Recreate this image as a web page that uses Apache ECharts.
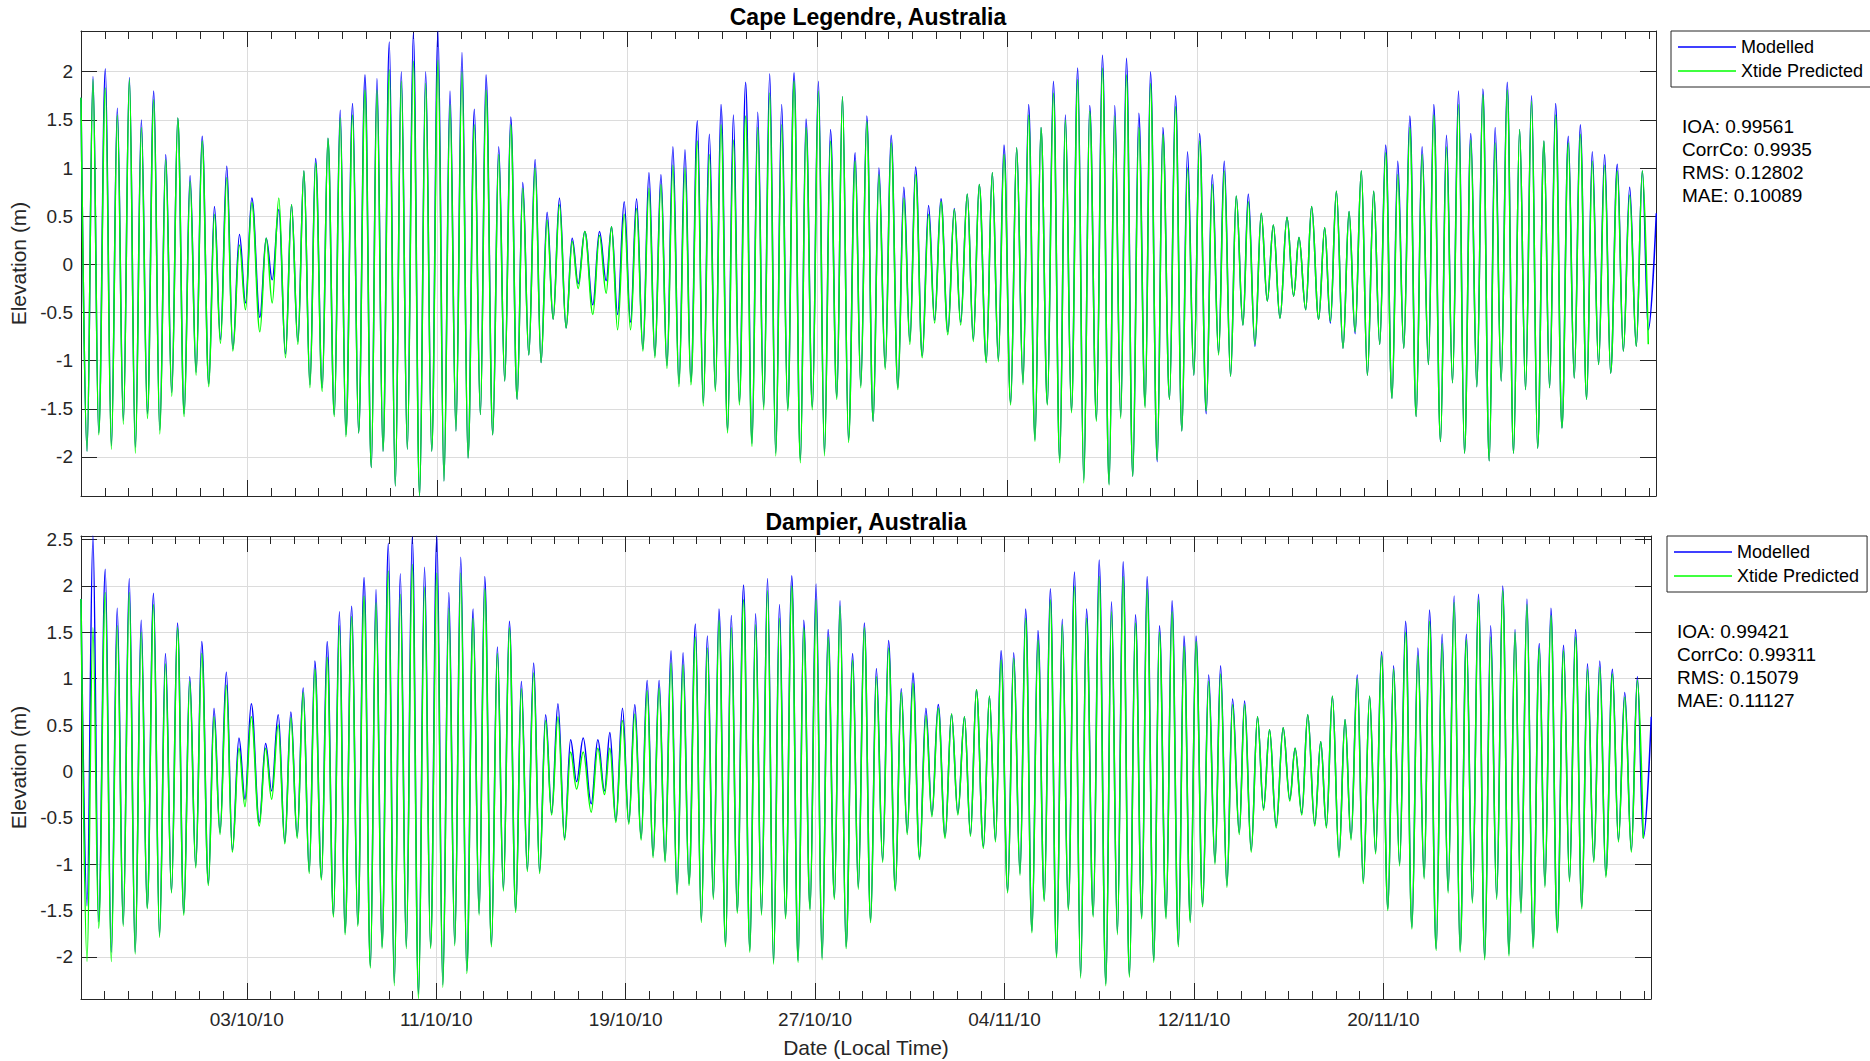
<!DOCTYPE html>
<html><head><meta charset="utf-8">
<script src="https://cdn.jsdelivr.net/npm/echarts@6/dist/echarts.min.js"></script>
<style>html,body{margin:0;padding:0;background:#fff;}#chart{width:1870px;height:1061px;}</style>
</head><body><div id="chart"></div>
<script>
// Times of successive high / low waters (hours after 26/09/10 00:00, local time)
const tideHours = [
0,6.1,12.1,17.9,24.6,30.7,36.7,42.8,48.9,54.9,61.0,67.1,73.5,79.6,85.6,91.7,97.8,104.2,110.2,116.3,122.4,129.1,134.8,140.9,147.3,153.4,160.1,166.2,172.6,180.7,187.1,193.2,199.9,206.6,212.7,219.1,225.2,231.3,237.0,243.7,249.5,255.9,261.9,
267.6,274.4,280.5,286.9,293.3,299.0,305.1,311.5,317.5,323.6,329.7,335.7,342.1,348.2,354.3,360.7,366.7,372.8,378.8,384.9,391.0,397.4,403.5,409.2,416.0,422.0,428.1,434.2,440.6,446.3,452.4,458.8,464.8,470.9,477.0,483.4,490.1,496.2,502.3,509.0,517.1,523.8,530.6,
536.0,542.1,548.8,555.2,561.3,567.7,573.8,579.8,585.9,592.0,598.0,604.1,610.2,616.2,622.7,628.7,634.8,640.9,646.6,653.3,659.1,665.1,671.5,677.9,683.7,689.7,695.8,701.9,707.9,714.0,720.4,726.8,732.5,738.9,745.0,751.1,757.2,763.6,769.3,775.4,782.1,787.8,793.9,
800.3,806.1,812.5,818.5,825.3,831.3,837.4,843.2,849.9,856.3,862.4,868.8,875.8,882.3,888.7,895.4,901.5,907.5,914.6,920.7,926.8,932.5,939.2,945.3,951.7,957.4,963.8,969.9,976.3,982.4,988.8,994.5,1000.6,1007.0,1013.1,1019.1,1025.9,1031.9,1038.7,1044.4,1050.4,1056.2,
1062.6,1068.7,1075.1,1080.5,1087.3,1093.0,1099.7,1105.8,1112.2,1117.9,1124.3,1130.1,1136.8,1142.9,1149.3,1155.0,1161.4,1167.1,1173.9,1179.3,1186.0,1192.4,1198.5,1204.6,1211.3,1218.4,1225.1,1230.5,1237.3,1243.3,1250.4,1256.5,1262.2,1268.3,1275.0,1281.1,1287.2,1293.5,1299.6,1306.0,1312.1,1318.1,1324.5,
1330.3,1336.4,1342.5,1348.9,1354.9,1361.3,1366.7,1373.5,1379.5,1385.6,1391.7,1397.7,1404.1,1410.2,1416.3,1422.7,1428.7,1434.8,1440.9,1447.3,1453.4,1459.4,1465.5,1471.6,1478.0,1483.7,1489.8,1496.2,1502.6,1508.6,1514.7,1521.1,1526.8,1533.2,1539.3,1545.4,1552.1,1558.2,1564.6,1571.3,1577.4,1583.4,1591.5
];

// Cape Legendre, elevation (m) at each high / low water
const capeModelled = [
1.73,-1.94,1.95,-1.75,2.03,-1.88,1.62,-1.62,1.94,-1.90,1.50,-1.55,1.80,-1.72,1.14,-1.33,1.52,-1.55,0.92,-1.12,1.33,-1.24,0.60,-0.78,1.02,-0.88,0.31,-0.40,0.69,-0.55,0.27,-0.16,0.57,-0.93,0.62,-0.80,0.97,-1.25,1.10,-1.28,1.31,-1.56,1.60,
-1.77,1.67,-1.75,1.97,-2.11,1.93,-1.94,2.31,-2.30,2.00,-1.92,2.40,-2.40,2.00,-1.94,2.42,-2.25,1.80,-1.73,2.20,-2.01,1.61,-1.56,1.97,-1.77,1.22,-1.21,1.53,-1.40,0.85,-0.94,1.09,-1.02,0.54,-0.57,0.69,-0.66,0.27,-0.20,0.34,-0.42,0.34,-0.17,
0.39,-0.52,0.65,-0.60,0.68,-0.88,0.95,-0.95,0.93,-1.05,1.22,-1.24,1.19,-1.22,1.49,-1.44,1.35,-1.30,1.66,-1.72,1.55,-1.43,1.89,-1.86,1.58,-1.48,1.98,-1.96,1.66,-1.50,1.99,-2.03,1.51,-1.48,1.90,-1.96,1.40,-1.38,1.74,-1.82,1.16,-1.26,1.54,
-1.63,1.00,-1.07,1.34,-1.28,0.80,-0.80,1.01,-0.95,0.61,-0.58,0.68,-0.70,0.58,-0.60,0.73,-0.78,0.83,-1.00,0.95,-0.99,1.24,-1.44,1.21,-1.23,1.66,-1.82,1.42,-1.45,1.90,-2.03,1.55,-1.52,2.04,-2.24,1.65,-1.61,2.17,-2.28,1.65,-1.58,2.14,
-2.20,1.57,-1.47,2.00,-2.05,1.42,-1.40,1.75,-1.73,1.17,-1.15,1.36,-1.55,0.93,-0.92,1.07,-1.16,0.71,-0.63,0.73,-0.85,0.53,-0.38,0.41,-0.56,0.49,-0.33,0.28,-0.47,0.60,-0.57,0.38,-0.61,0.76,-0.87,0.55,-0.72,0.97,-1.15,0.76,-0.83,1.24,-1.39,
1.07,-0.87,1.54,-1.58,1.22,-1.04,1.66,-1.84,1.34,-1.23,1.80,-1.96,1.36,-1.27,1.82,-2.04,1.42,-1.21,1.89,-1.96,1.40,-1.30,1.75,-1.91,1.28,-1.28,1.67,-1.70,1.33,-1.18,1.45,-1.40,1.17,-1.04,1.14,-1.13,1.04,-0.90,0.80,-0.85,0.97,-0.68,0.53
];
const capeXtide = [
1.73,-1.94,1.92,-1.77,1.83,-1.92,1.55,-1.66,1.92,-1.96,1.42,-1.60,1.71,-1.76,1.09,-1.37,1.52,-1.58,0.86,-1.15,1.28,-1.27,0.52,-0.82,0.90,-0.90,0.20,-0.47,0.64,-0.70,0.27,-0.40,0.69,-0.97,0.62,-0.83,0.97,-1.28,1.05,-1.32,1.31,-1.58,1.52,
-1.79,1.55,-1.75,1.81,-2.11,1.81,-1.94,2.02,-2.30,1.90,-1.92,2.11,-2.40,1.88,-1.94,2.12,-2.25,1.66,-1.73,2.00,-2.01,1.45,-1.56,1.81,-1.77,1.14,-1.21,1.45,-1.40,0.79,-0.94,1.00,-1.02,0.46,-0.57,0.62,-0.66,0.24,-0.25,0.34,-0.52,0.30,-0.30,
0.39,-0.68,0.52,-0.68,0.58,-0.90,0.79,-0.97,0.83,-1.08,1.03,-1.27,1.00,-1.25,1.28,-1.47,1.14,-1.32,1.45,-1.75,1.29,-1.46,1.54,-1.89,1.42,-1.51,1.78,-1.99,1.45,-1.52,1.90,-2.06,1.42,-1.51,1.80,-1.99,1.28,-1.40,1.74,-1.85,1.07,-1.28,1.48,
-1.63,0.93,-1.09,1.26,-1.30,0.69,-0.83,0.93,-0.97,0.52,-0.61,0.65,-0.73,0.57,-0.63,0.73,-0.80,0.83,-1.02,0.95,-1.01,1.14,-1.46,1.21,-1.25,1.55,-1.84,1.42,-1.46,1.78,-2.06,1.50,-1.54,1.92,-2.27,1.59,-1.63,2.04,-2.29,1.54,-1.60,1.97,
-2.20,1.42,-1.49,1.88,-2.03,1.35,-1.40,1.64,-1.73,1.00,-1.15,1.28,-1.52,0.83,-0.94,0.97,-1.16,0.71,-0.63,0.65,-0.83,0.53,-0.38,0.41,-0.56,0.49,-0.33,0.28,-0.47,0.60,-0.57,0.38,-0.59,0.76,-0.87,0.55,-0.70,0.97,-1.15,0.76,-0.83,1.16,-1.39,
0.93,-0.87,1.42,-1.58,1.14,-1.04,1.55,-1.84,1.22,-1.23,1.66,-1.96,1.29,-1.27,1.76,-2.04,1.26,-1.21,1.81,-1.96,1.40,-1.30,1.69,-1.91,1.28,-1.28,1.55,-1.70,1.26,-1.18,1.35,-1.40,1.07,-1.04,1.03,-1.13,0.97,-0.90,0.72,-0.85,0.97,-0.83
];

// Dampier, elevation (m) at each high / low water
const dampierModelled = [
1.86,-1.45,2.54,-1.62,2.18,-1.95,1.76,-1.65,2.08,-1.95,1.63,-1.47,1.92,-1.77,1.27,-1.30,1.60,-1.53,1.02,-1.02,1.40,-1.21,0.68,-0.66,1.07,-0.85,0.36,-0.30,0.73,-0.55,0.30,-0.21,0.61,-0.76,0.64,-0.70,0.90,-1.08,1.19,-1.15,1.40,-1.55,1.72,
-1.74,1.78,-1.65,2.09,-2.10,1.96,-1.89,2.46,-2.28,2.13,-1.89,2.53,-2.40,2.20,-1.89,2.54,-2.30,1.93,-1.86,2.31,-2.15,1.75,-1.53,2.10,-1.87,1.34,-1.27,1.62,-1.50,0.97,-1.06,1.17,-1.08,0.61,-0.45,0.73,-0.72,0.34,-0.11,0.36,-0.35,0.34,-0.21,
0.42,-0.53,0.68,-0.55,0.72,-0.72,0.98,-0.91,0.98,-0.96,1.30,-1.31,1.28,-1.21,1.59,-1.61,1.46,-1.36,1.75,-1.87,1.68,-1.51,2.01,-1.93,1.70,-1.53,2.08,-2.06,1.80,-1.57,2.11,-2.04,1.63,-1.48,2.02,-2.01,1.53,-1.36,1.84,-1.89,1.27,-1.25,1.60,
-1.61,1.11,-0.96,1.41,-1.27,0.89,-0.66,1.06,-0.93,0.68,-0.47,0.72,-0.70,0.62,-0.45,0.59,-0.68,0.88,-0.81,0.81,-0.74,1.30,-1.29,1.28,-1.10,1.75,-1.72,1.52,-1.38,1.97,-1.99,1.64,-1.48,2.15,-2.21,1.75,-1.55,2.28,-2.29,1.83,-1.74,2.26,
-2.20,1.69,-1.57,2.10,-2.04,1.57,-1.57,1.84,-1.87,1.46,-1.61,1.46,-1.44,1.04,-0.98,1.14,-1.23,0.78,-0.66,0.76,-0.85,0.59,-0.40,0.45,-0.59,0.47,-0.30,0.25,-0.45,0.61,-0.57,0.32,-0.59,0.81,-0.91,0.56,-0.72,1.04,-1.19,0.81,-0.87,1.29,-1.48,
1.14,-1.00,1.62,-1.68,1.33,-1.14,1.74,-1.91,1.48,-1.29,1.89,-1.93,1.48,-1.40,1.91,-2.01,1.57,-1.36,2.00,-1.97,1.53,-1.51,1.86,-1.89,1.38,-1.23,1.76,-1.72,1.36,-1.17,1.53,-1.46,1.16,-0.96,1.19,-1.12,1.10,-0.74,0.85,-0.85,1.02,-0.72,0.59
];
const dampierXtide = [
1.86,-2.05,1.55,-1.69,1.93,-2.05,1.57,-1.67,1.93,-1.97,1.50,-1.48,1.80,-1.79,1.16,-1.31,1.55,-1.55,0.97,-1.04,1.27,-1.23,0.59,-0.68,0.93,-0.87,0.25,-0.38,0.59,-0.59,0.25,-0.30,0.50,-0.78,0.58,-0.72,0.85,-1.10,1.10,-1.17,1.23,-1.57,1.57,
-1.76,1.67,-1.67,1.89,-2.12,1.82,-1.91,2.16,-2.31,1.91,-1.91,2.23,-2.45,1.99,-1.91,2.14,-2.33,1.76,-1.88,2.14,-2.18,1.65,-1.55,1.97,-1.89,1.27,-1.29,1.55,-1.52,0.89,-1.08,1.06,-1.10,0.55,-0.47,0.59,-0.74,0.21,-0.19,0.21,-0.44,0.25,-0.25,
0.25,-0.55,0.55,-0.57,0.62,-0.74,0.87,-0.93,0.90,-0.98,1.17,-1.33,1.15,-1.23,1.45,-1.63,1.33,-1.38,1.63,-1.89,1.55,-1.53,1.85,-1.95,1.58,-1.55,1.95,-2.08,1.65,-1.59,2.00,-2.06,1.55,-1.50,1.85,-2.03,1.45,-1.38,1.78,-1.91,1.20,-1.27,1.55,
-1.63,1.02,-0.98,1.33,-1.29,0.85,-0.68,0.95,-0.95,0.60,-0.49,0.68,-0.72,0.62,-0.47,0.59,-0.70,0.88,-0.83,0.81,-0.76,1.20,-1.31,1.22,-1.12,1.65,-1.74,1.42,-1.40,1.85,-2.01,1.58,-1.50,2.00,-2.23,1.65,-1.57,2.10,-2.31,1.72,-1.76,2.10,
-2.22,1.60,-1.59,1.97,-2.06,1.50,-1.59,1.72,-1.89,1.35,-1.63,1.40,-1.46,0.97,-1.00,1.05,-1.25,0.72,-0.68,0.72,-0.87,0.59,-0.42,0.45,-0.61,0.47,-0.32,0.25,-0.47,0.61,-0.59,0.32,-0.61,0.81,-0.93,0.56,-0.74,1.00,-1.21,0.81,-0.89,1.25,-1.50,
1.10,-1.02,1.50,-1.70,1.25,-1.16,1.62,-1.93,1.38,-1.31,1.82,-1.95,1.42,-1.42,1.85,-2.03,1.45,-1.38,1.95,-1.99,1.50,-1.53,1.80,-1.91,1.33,-1.25,1.68,-1.74,1.30,-1.19,1.45,-1.48,1.10,-0.98,1.12,-1.14,1.05,-0.76,0.80,-0.87,0.98,-0.72
];

const xTickLabels = ['03/10/10','11/10/10','19/10/10','27/10/10','04/11/10','12/11/10','20/11/10'];
const panelTitles = ['Cape Legendre, Australia', 'Dampier, Australia'];
const seriesNames = ['Modelled', 'Xtide Predicted'];
const capeStats = ['IOA: 0.99561', 'CorrCo: 0.9935', 'RMS: 0.12802', 'MAE: 0.10089'];
const dampierStats = ['IOA: 0.99421', 'CorrCo: 0.99311', 'RMS: 0.15079', 'MAE: 0.11127'];

const FONT = '"Liberation Sans", Arial, Helvetica, sans-serif';
const AX = '#262626';
const GRIDC = '#dcdcdc';
const X_MIN = -7, X_MAX = 59.3;          // days relative to 03/10/10 00:00
const majorDays = xTickLabels.map((_, i) => i * 8);

function toPoints(vals) {
  return vals.map((v, i) => [tideHours[i] / 24 - 7, v]);
}

function xAxes(g, withLabels) {
  const base = { gridIndex: g, type: 'value', min: X_MIN, max: X_MAX, interval: 1 };
  const line = { show: true, onZero: false, lineStyle: { color: AX, width: 1 } };
  const major = {
    axisLine: line,
    axisTick: { show: true, inside: true, length: 16, customValues: majorDays, lineStyle: { color: AX, width: 1 } },
    splitLine: { show: false }
  };
  const minor = {
    axisLine: { show: false, onZero: false },
    axisTick: { show: true, inside: true, length: 8, lineStyle: { color: AX, width: 1 } },
    axisLabel: { show: false },
    splitLine: { show: false }
  };
  return [
    Object.assign({}, base, major, {
      position: 'bottom',
      splitLine: { show: true, lineStyle: { color: GRIDC, width: 1 } },
      axisLabel: {
        show: withLabels, customValues: majorDays, margin: 11, color: AX,
        fontFamily: FONT, fontSize: 19,
        formatter: v => { const i = Math.round(v / 8); return xTickLabels[i] || ''; }
      },
      name: withLabels ? 'Date (Local Time)' : '',
      nameLocation: 'middle', nameGap: 38,
      nameTextStyle: { color: AX, fontFamily: FONT, fontSize: 21 }
    }),
    Object.assign({}, base, major, { position: 'top', axisLabel: { show: false } }),
    Object.assign({}, base, minor, { position: 'bottom' }),
    Object.assign({}, base, minor, { position: 'top' })
  ];
}

function yAxes(g, min, max) {
  const common = {
    gridIndex: g, type: 'value', min: min, max: max, minInterval: 0.5, maxInterval: 0.5,
    axisLine: { show: true, onZero: false, lineStyle: { color: AX, width: 1 } },
    axisTick: { show: true, inside: true, length: 16, lineStyle: { color: AX, width: 1 } }
  };
  return [
    Object.assign({}, common, {
      position: 'left',
      axisLabel: { show: true, margin: 8, color: AX, fontFamily: FONT, fontSize: 19, showMinLabel: false, showMaxLabel: false },
      splitLine: { show: true, lineStyle: { color: GRIDC, width: 1 } },
      name: 'Elevation (m)', nameLocation: 'middle', nameGap: 45,
      nameTextStyle: { color: AX, fontFamily: FONT, fontSize: 21 }
    }),
    Object.assign({}, common, { position: 'right', axisLabel: { show: false }, splitLine: { show: false } })
  ];
}

function lineSeries(name, vals, xi, yi, color) {
  return {
    type: 'line', name: name, xAxisIndex: xi, yAxisIndex: yi,
    data: toPoints(vals), symbol: 'none', showSymbol: false,
    smooth: 0.37, smoothMonotone: 'x',
    lineStyle: { color: color, width: 1.5 }, itemStyle: { color: color },
    emphasis: { disabled: true }, animation: false, z: 3
  };
}

function legendBox(left, top) {
  return {
    left: left, top: top, orient: 'vertical', data: seriesNames,
    icon: 'rect', itemWidth: 58, itemHeight: 1.3, itemGap: 6,
    padding: [7, 8, 7, 7], borderColor: AX, borderWidth: 1, backgroundColor: '#fff',
    textStyle: { fontFamily: FONT, fontSize: 18, color: '#000' },
    selectedMode: false
  };
}

function statsText(lines, x, y) {
  return {
    type: 'text', x: x, y: y, z: 10,
    style: { text: lines.join('\n'), font: '19px ' + FONT, fill: '#000', lineHeight: 23, verticalAlign: 'top', align: 'left' }
  };
}

function titleText(text, x, y) {
  return {
    type: 'text', x: x, y: y, z: 10,
    style: { text: text, font: 'bold 23px ' + FONT, fill: '#000', align: 'center', verticalAlign: 'middle' }
  };
}

const chart = echarts.init(document.getElementById('chart'), null, { renderer: 'svg' });
chart.setOption({
  animation: false,
  backgroundColor: '#fff',
  grid: [
    { left: 81, top: 31, width: 1575, height: 465, containLabel: false },
    { left: 81, top: 536, width: 1570, height: 463, containLabel: false }
  ],
  xAxis: xAxes(0, false).concat(xAxes(1, true)),
  yAxis: yAxes(0, -2.405, 2.423).concat(yAxes(1, -2.454, 2.538)),
  legend: [legendBox(1671, 31), legendBox(1667, 536)],
  series: [
    lineSeries(seriesNames[0], capeModelled, 0, 0, '#0000ff'),
    lineSeries(seriesNames[1], capeXtide, 0, 0, '#00ff00'),
    lineSeries(seriesNames[0], dampierModelled, 4, 2, '#0000ff'),
    lineSeries(seriesNames[1], dampierXtide, 4, 2, '#00ff00')
  ],
  graphic: [
    titleText(panelTitles[0], 868, 17),
    titleText(panelTitles[1], 866, 522),
    statsText(capeStats, 1682, 114.5),
    statsText(dampierStats, 1677, 619.5)
  ]
});
</script>
</body></html>
